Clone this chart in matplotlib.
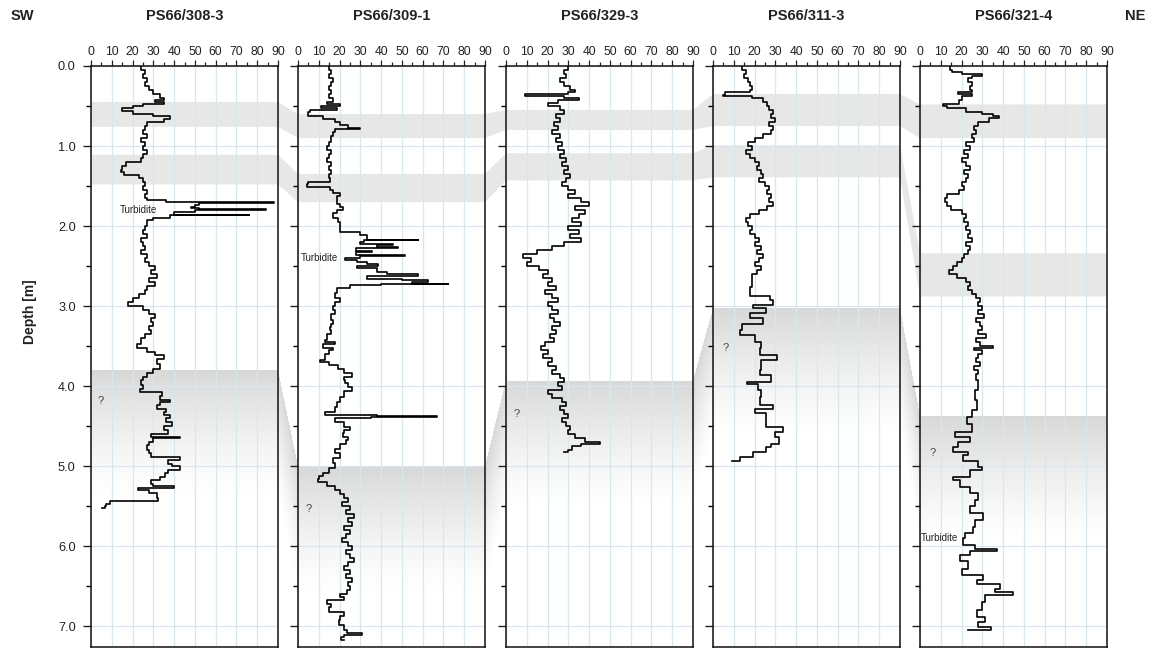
import numpy as np
import matplotlib
matplotlib.use("Agg")
import matplotlib.pyplot as plt
from matplotlib.patches import Polygon
from matplotlib.ticker import MultipleLocator

plt.rcParams['font.family'] = ['Liberation Sans', 'DejaVu Sans']

# ---------------------------------------------------------------- data
cores = ["PS66/308-3", "PS66/309-1", "PS66/329-3", "PS66/311-3", "PS66/321-4"]

depth_308 = [0.00, 0.05, 0.10, 0.15, 0.20, 0.25, 0.30, 0.35, 0.40, 0.43, 0.45, 0.47, 0.50, 0.53, 0.56, 0.60, 0.63, 0.66,
             0.70, 0.75, 0.80, 0.85, 0.90, 0.95, 1.00, 1.05, 1.10, 1.15, 1.20, 1.25, 1.30, 1.33, 1.36, 1.40, 1.45, 1.50,
             1.55, 1.60, 1.65, 1.67, 1.70, 1.705, 1.71, 1.74, 1.76, 1.78, 1.79, 1.80, 1.83, 1.86, 1.865, 1.90, 1.93,
             2.00, 2.05, 2.10, 2.15, 2.20, 2.25, 2.30, 2.35, 2.40, 2.45, 2.50, 2.55, 2.60, 2.65, 2.70, 2.75, 2.80,
             2.85, 2.90, 2.95, 3.00, 3.05, 3.10, 3.15, 3.20, 3.25, 3.30, 3.35, 3.40, 3.47, 3.52, 3.57, 3.61, 3.66,
             3.72, 3.78, 3.84, 3.88, 3.92, 3.98, 4.03, 4.07, 4.12, 4.17, 4.20, 4.24, 4.28, 4.32, 4.36, 4.40, 4.45,
             4.50, 4.55, 4.60, 4.63, 4.65, 4.70, 4.74, 4.80, 4.84, 4.88, 4.92, 4.97, 5.00, 5.05, 5.09, 5.13, 5.175,
             5.22, 5.25, 5.27, 5.30, 5.34, 5.40, 5.43, 5.44, 5.47, 5.50, 5.52]
value_308 = [24, 26, 25, 27, 26, 28, 30, 33, 35, 31, 35, 25, 20, 15, 20, 30, 38, 35,
             27, 26, 25, 27, 24, 26, 25, 27, 25, 24, 17, 15, 14.5, 16, 23, 25, 26, 25,
             27, 26, 27, 36, 54, 88, 52, 50, 48, 52, 84, 50, 40, 76, 38, 30, 27,
             26, 25, 27, 24, 25, 26, 24, 27, 26, 28, 31, 29, 32, 28, 31, 27, 26,
             23, 20, 18, 25, 28, 31, 29, 30, 28, 29, 26, 24, 22, 27, 31, 35, 32,
             33, 30, 27, 25, 24, 25, 23.6, 34, 33, 38, 33, 31.6, 36, 35, 38, 36, 39,
             35, 37, 29, 43, 30, 28, 27, 28, 29, 43, 37, 39, 43, 37, 35.6, 33, 29,
             30, 40, 22.7, 28, 31.6, 32.4, 20, 9, 7, 6.5, 5.5]

depth_309 = [0.00, 0.05, 0.10, 0.15, 0.20, 0.25, 0.30, 0.35, 0.40, 0.45, 0.48, 0.50, 0.52, 0.55, 0.58, 0.62, 0.66,
             0.70, 0.74, 0.77, 0.79, 0.83, 0.88, 0.95, 1.00, 1.05, 1.10, 1.15, 1.20, 1.25, 1.30, 1.35, 1.40, 1.45,
             1.47, 1.51, 1.55, 1.59, 1.63, 1.675, 1.72, 1.76, 1.80, 1.84, 1.90, 1.95, 2.01, 2.07, 2.11, 2.17, 2.18,
             2.20, 2.22, 2.24, 2.26, 2.28, 2.31, 2.33, 2.36, 2.38, 2.40, 2.42, 2.45, 2.47, 2.50, 2.53, 2.57, 2.60,
             2.62, 2.63, 2.66, 2.67, 2.68, 2.70, 2.72, 2.73, 2.74, 2.78, 2.84, 2.90, 2.95, 3.00, 3.05, 3.10, 3.17,
             3.22, 3.26, 3.30, 3.35, 3.42, 3.45, 3.48, 3.52, 3.55, 3.60, 3.675, 3.70, 3.74, 3.78, 3.84, 3.88, 3.92,
             3.96, 4.01, 4.06, 4.13, 4.20, 4.26, 4.32, 4.36, 4.37, 4.38, 4.40, 4.45, 4.51, 4.55, 4.59, 4.63, 4.675,
             4.72, 4.78, 4.84, 4.90, 4.96, 5.02, 5.08, 5.12, 5.16, 5.20, 5.25, 5.30, 5.35, 5.40, 5.45, 5.50, 5.55,
             5.60, 5.65, 5.70, 5.75, 5.80, 5.85, 5.90, 5.95, 6.00, 6.05, 6.10, 6.15, 6.20, 6.25, 6.30, 6.35, 6.40,
             6.45, 6.50, 6.55, 6.60, 6.64, 6.675, 6.72, 6.76, 6.82, 6.87, 6.925, 6.98, 7.05, 7.09, 7.11, 7.13, 7.17]
value_309 = [15, 16, 15, 17, 16, 15, 16, 15, 17, 14, 20, 11, 19, 6, 5, 12, 18,
             20, 24, 30, 18, 17, 16, 15, 14, 16, 15, 14, 16, 15, 16, 15, 15.4, 5,
             4.5, 15.4, 17, 20, 19, 18.6, 20, 21.6, 19, 17, 19.4, 20, 20.2, 29.8, 33, 57.8, 32,
             29.8, 45.8, 38, 48, 28, 35.5, 28, 51.4, 30, 22.6, 28.2, 33, 38.6, 28.2, 37.8, 42.6, 57.8,
             40, 33, 50, 58.6, 62.6, 55, 72.3, 40, 25, 18.6, 17.8, 20.2, 18, 17, 18, 16, 17,
             16, 15.4, 16, 14, 13, 18, 12, 17, 15, 13, 10.6, 15, 19.4, 22, 25.8, 22, 22.6,
             24, 25.8, 22, 20.2, 19, 17.8, 12.9, 37.8, 66.7, 35, 17.8, 22, 25, 22, 21.6, 24, 23,
             20, 18, 20, 17, 18, 15, 12, 10, 9.8, 14, 18, 20, 22, 24, 21, 25, 23,
             27, 24, 26, 22, 25, 23, 21, 24, 26, 23, 25, 27, 24, 22, 25, 23, 26,
             24, 25, 23.4, 20, 22, 13.8, 16, 14.8, 22, 20, 19.7, 22, 23.4, 30.6, 22, 20.5, 22]

depth_329 = [0.00, 0.05, 0.10, 0.15, 0.20, 0.25, 0.30, 0.33, 0.35, 0.37, 0.40, 0.43, 0.46, 0.50, 0.55, 0.60, 0.65,
             0.70, 0.75, 0.80, 0.85, 0.90, 0.95, 1.00, 1.05, 1.10, 1.15, 1.20, 1.25, 1.30, 1.35, 1.40, 1.45, 1.50,
             1.55, 1.60, 1.65, 1.70, 1.75, 1.80, 1.85, 1.90, 1.95, 2.00, 2.05, 2.10, 2.15, 2.20, 2.25, 2.30, 2.35,
             2.40, 2.45, 2.50, 2.55, 2.60, 2.65, 2.70, 2.75, 2.80, 2.85, 2.90, 2.95, 3.00, 3.05, 3.10, 3.15, 3.20,
             3.25, 3.30, 3.35, 3.40, 3.45, 3.50, 3.55, 3.60, 3.65, 3.70, 3.75, 3.80, 3.85, 3.90, 3.95, 4.00, 4.05,
             4.10, 4.15, 4.20, 4.25, 4.30, 4.35, 4.40, 4.45, 4.50, 4.55, 4.60, 4.65, 4.70, 4.72, 4.75, 4.80, 4.82]
value_329 = [30, 28, 29, 26, 28, 31, 33, 30, 9, 28, 35, 25, 20, 26, 28, 24, 26,
             23, 25, 22, 26, 24, 27, 25, 28, 26, 29, 27, 30, 28, 31, 29, 27, 30,
             33, 30, 36, 40, 33, 38, 35, 32, 36, 30, 35, 31, 36, 28, 22, 15, 8,
             12, 10, 16, 20, 18, 22, 20, 24, 19, 22, 25, 20, 22, 25, 21, 23, 26,
             22, 24, 21, 23, 19, 17, 20, 18, 22, 20, 24, 22, 26, 28, 25, 27, 20,
             22, 27, 29, 26, 28, 30, 27, 29, 31, 30, 33, 38, 45, 36, 32, 30, 28]

depth_311 = [0.00, 0.05, 0.10, 0.15, 0.20, 0.25, 0.30, 0.33, 0.36, 0.38, 0.40, 0.45, 0.50, 0.55, 0.60, 0.65, 0.70,
             0.75, 0.80, 0.85, 0.90, 0.95, 1.00, 1.05, 1.10, 1.15, 1.20, 1.25, 1.30, 1.35, 1.40, 1.45, 1.50, 1.55,
             1.60, 1.65, 1.70, 1.75, 1.80, 1.85, 1.90, 1.95, 2.00, 2.05, 2.10, 2.15, 2.20, 2.25, 2.30, 2.35, 2.40,
             2.45, 2.50, 2.55, 2.60, 2.675, 2.76, 2.88, 2.925, 2.99, 3.03, 3.09, 3.15, 3.22, 3.30, 3.36, 3.45, 3.53,
             3.61, 3.675, 3.80, 3.86, 3.95, 3.97, 4.05, 4.13, 4.24, 4.28, 4.34, 4.51, 4.57, 4.63, 4.72, 4.76, 4.82,
             4.88, 4.93]
value_311 = [14, 16, 15, 17, 18, 19, 18, 6, 5, 19, 24, 26, 27, 29, 28, 30, 27,
             29, 28, 24, 20, 17, 19, 16, 18, 20, 22, 21, 23, 24, 22, 25, 27, 26,
             28, 27, 29, 26, 22, 18, 16, 17, 19, 18, 20, 22, 20, 23, 21, 24, 22,
             20, 23, 21, 19, 18.6, 17.8, 27.4, 28.8, 19.2, 25.6, 17.8, 24, 13.8, 13, 20, 23.2, 22.4,
             30.6, 23.2, 22.4, 28, 16.2, 21.8, 23.2, 22.4, 28.8, 20.2, 25.6, 33.8, 29.6, 32, 28, 25.6, 19.2,
             13, 9]

depth_321 = [0.00, 0.05, 0.08, 0.10, 0.12, 0.15, 0.20, 0.25, 0.30, 0.33, 0.35, 0.37, 0.42, 0.47, 0.50, 0.53, 0.57,
             0.60, 0.62, 0.65, 0.70, 0.75, 0.80, 0.85, 0.90, 0.95, 1.00, 1.05, 1.10, 1.15, 1.20, 1.25, 1.30, 1.35,
             1.40, 1.45, 1.50, 1.55, 1.60, 1.65, 1.70, 1.75, 1.80, 1.85, 1.90, 1.95, 2.00, 2.05, 2.10, 2.15, 2.20,
             2.25, 2.30, 2.35, 2.40, 2.45, 2.50, 2.55, 2.60, 2.65, 2.70, 2.75, 2.80, 2.85, 2.90, 2.95, 3.00, 3.05,
             3.10, 3.15, 3.20, 3.25, 3.30, 3.35, 3.40, 3.45, 3.50, 3.52, 3.55, 3.60, 3.65, 3.70, 3.75, 3.80, 3.85,
             3.925, 4.05, 4.175, 4.30, 4.38, 4.47, 4.57, 4.63, 4.70, 4.76, 4.82, 4.86, 4.93, 5.01, 5.05, 5.13,
             5.17, 5.26, 5.34, 5.42, 5.50, 5.59, 5.675, 5.76, 5.84, 5.90, 5.99, 6.03, 6.06, 6.11, 6.19, 6.28,
             6.36, 6.425, 6.47, 6.53, 6.57, 6.61, 6.70, 6.80, 6.885, 6.95, 7.01, 7.05]
value_321 = [14.4, 15.4, 20, 29.6, 25, 23, 25, 24, 25, 18.4, 25, 20, 19, 11, 13, 22, 30,
             35, 38, 33, 28, 26, 27, 25, 26, 22, 24, 21, 23, 20, 22, 24, 21, 23,
             22, 20, 21, 19, 13, 12, 13, 15, 20, 22, 21, 23, 22, 24, 23, 25, 22,
             24, 23, 21, 20, 18, 16, 14, 18, 22, 24, 23, 25, 27, 29, 28, 30, 28,
             31, 27, 29, 30, 28, 32, 27, 29, 35, 26, 30, 28, 27, 29, 26, 28, 27,
             28, 26.4, 27.2, 24.8, 22.4, 24.8, 16.8, 24, 18.4, 15.7, 23.2, 20.8, 28, 29.6, 24, 16,
             19.2, 24, 28, 26.4, 24, 30.4, 26.4, 25.6, 21.6, 20.8, 26.4, 36.9, 24, 19.2, 23.2, 20,
             30.4, 27.2, 38.4, 36, 44.9, 31.2, 29.6, 27.2, 31.2, 28, 34.4, 23.2]

depths = [depth_308, depth_309, depth_329, depth_311, depth_321]
values = [value_308, value_309, value_329, value_311, value_321]

# correlated horizons (top, bottom) in each core, SW -> NE
band_a_top = [0.45, 0.60, 0.55, 0.35, 0.48]
band_a_bot = [0.76, 0.90, 0.80, 0.75, 0.90]
band_b_top = [1.11, 1.35, 1.09, 0.99, 2.34]
band_b_bot = [1.48, 1.70, 1.43, 1.39, 2.88]
# top of the lower, uncertain unit
unit_top = [3.80, 5.00, 3.93, 3.03, 4.37]

turbidites = {0: (14, 1.80), 1: (1.2, 2.40), 4: (0.2, 5.90)}
queries = [(4.8, 4.19), (5.3, 5.53), (5.3, 4.35), (6.2, 3.52), (6.2, 4.84)]

x_ticks = list(range(0, 100, 10))
depth_max = 7.26

# ---------------------------------------------------------------- layout
W, H = 1152, 650
fig = plt.figure(figsize=(W / 100, H / 100), dpi=100)

bg = fig.add_axes([0, 0, 1, 1], zorder=0)
bg.set_xlim(0, W)
bg.set_ylim(H, 0)
bg.axis("off")

panel_left = [91, 298, 506, 713, 920]
panel_w = 187
top_px, bot_px = 66, 647

axes = []
for i, name in enumerate(cores):
    ax = fig.add_axes([panel_left[i] / W, 1 - bot_px / H, panel_w / W, (bot_px - top_px) / H], zorder=2)
    ax.set_facecolor("none")
    ax.set_xlim(0, 90)
    ax.set_ylim(depth_max, 0)
    ax.xaxis.set_major_locator(MultipleLocator(10))
    ax.xaxis.set_minor_locator(MultipleLocator(5))
    ax.yaxis.set_major_locator(MultipleLocator(1))
    ax.yaxis.set_minor_locator(MultipleLocator(0.5))
    ax.set_xticks(x_ticks)
    ax.tick_params(axis="x", which="both", top=True, bottom=False, labeltop=True, labelbottom=False,
                   direction="out", labelsize=8.8, pad=2, colors="#222222")
    ax.tick_params(axis="x", which="major", length=4, width=0.9)
    ax.tick_params(axis="x", which="minor", length=3, width=0.9)
    ax.tick_params(axis="y", which="major", length=6, width=1.0, direction="out", labelsize=9.2, pad=5,
                   colors="#222222")
    ax.tick_params(axis="y", which="minor", length=3.5, width=1.0, direction="out")
    if i == 0:
        ax.yaxis.set_major_formatter(plt.FuncFormatter(lambda v, p: f"{v:.1f}"))
    else:
        ax.tick_params(axis="y", labelleft=False)
    ax.grid(True, which="major", color="#d8e6ef", lw=0.9)
    ax.set_axisbelow(True)
    for s in ax.spines.values():
        s.set_color("#111111")
        s.set_linewidth(1.1)
    # stepped log: depth advances vertically, value jumps horizontally
    ax.plot(values[i], depths[i], color="black", lw=1.2, drawstyle="steps-pre", zorder=3)
    axes.append(ax)

fig.canvas.draw()


def to_px(ax, x, d):
    disp = ax.transData.transform((x, d))
    return bg.transData.inverted().transform(disp)


def edge(depth_list):
    pts = []
    for i, ax in enumerate(axes):
        pts.append(to_px(ax, 0, depth_list[i]))
        pts.append(to_px(ax, 90, depth_list[i]))
    return np.array(pts)


# flat correlated bands with connectors between cores
for tops, bots in [(band_a_top, band_a_bot), (band_b_top, band_b_bot)]:
    upper = edge(tops)
    lower = edge(bots)[::-1]
    bg.add_patch(Polygon(np.vstack([upper, lower]), closed=True, facecolor="#e7e7e7", edgecolor="none", zorder=1))

# lower unit: grey fading downward from its top
e = edge(unit_top)
xs = np.arange(W) + 0.5
ys = np.arange(H) + 0.5
top_line = np.interp(xs, e[:, 0], e[:, 1])
fade = 125.0
t = (ys[:, None] - top_line[None, :]) / fade
alpha = np.where(t >= 0, np.clip(1 - t, 0, 1) ** 1.3, 0.0)
alpha[:, (xs < e[0, 0]) | (xs > e[-1, 0])] = 0
img = np.zeros((H, W, 4))
img[..., :3] = 0.85
img[..., 3] = alpha
bg.imshow(img, extent=(0, W, H, 0), zorder=0.5, interpolation="bilinear", aspect="auto")

# annotations
for i, (x, d) in turbidites.items():
    axes[i].text(x, d, "Turbidite", fontsize=7, ha="left", va="center", color="#222222", zorder=4)
for i, (x, d) in enumerate(queries):
    axes[i].text(x, d, "?", fontsize=8, ha="center", va="center", color="#444444", zorder=4)

fig.text(22 / W, 1 - 16 / H, "SW", fontsize=10.5, fontweight="bold", ha="center", va="center", color="#222222")
fig.text(1135 / W, 1 - 16 / H, "NE", fontsize=10.5, fontweight="bold", ha="center", va="center", color="#222222")
fig.text(30 / W, 1 - 312 / H, "Depth [m]", fontsize=10, fontweight="bold", rotation=90, ha="center",
         va="center", color="#222222")

# core names centred above each panel
for ax, name in zip(axes, cores):
    bb = ax.get_position()
    fig.text(bb.x0 + bb.width / 2, 1 - 16 / H, name, fontsize=10.5, fontweight="bold",
             ha="center", va="center", color="#222222")

fig.savefig("out.png", dpi=100)
